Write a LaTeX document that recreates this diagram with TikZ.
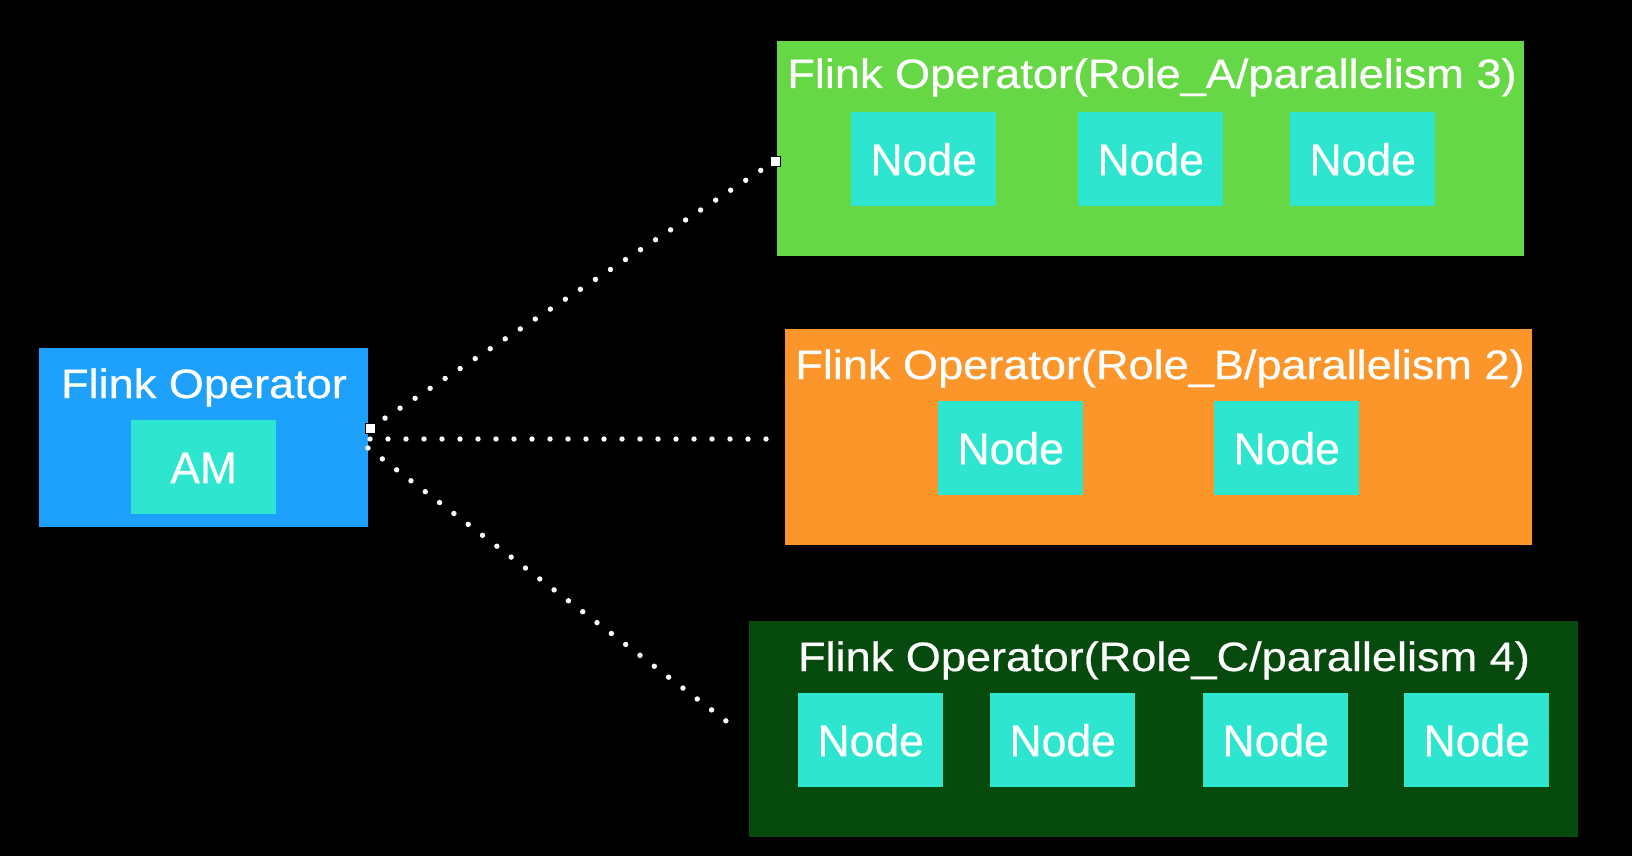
\documentclass[tikz,border=0pt]{standalone}
\usepackage{fontspec}
\setmainfont{Liberation Sans}
\newfontfamily\titlefont[FakeStretch=1.1,FakeBold=0.5]{Liberation Sans}
\newfontfamily\boxfont[FakeBold=0.5]{Liberation Sans}
\definecolor{bgblue}{RGB}{30,161,252}
\definecolor{bggreen}{RGB}{102,216,69}
\definecolor{bgorange}{RGB}{253,150,42}
\definecolor{bgdark}{RGB}{7,74,14}
\definecolor{cyanbox}{RGB}{46,230,207}
\tikzset{
  panel/.style={draw=none, anchor=north west, inner sep=0pt},
  nodebox/.style={fill=cyanbox, minimum width=145pt, minimum height=94pt, inner sep=0pt, anchor=north west, text=white, text height=32pt, text depth=0pt, font=\boxfont\fontsize{44.5}{52}\selectfont},
  title/.style={text=white, font=\titlefont\fontsize{41}{50}\selectfont, inner sep=0pt, anchor=base},
  handle/.style={draw=black, fill=white, line width=1pt, minimum size=10pt, inner sep=0pt},
  dots/.style={white, line width=5.4pt, line cap=round, dash pattern=on 0pt off 18pt},
}
\begin{document}
\begin{tikzpicture}[x=1pt,y=-1pt]
\fill[black] (0,0) rectangle (1632,856);
\useasboundingbox (0,0) rectangle (1632,856);
% panels
\fill[bgblue] (39,348) rectangle (368,527);
\fill[bggreen] (777,41) rectangle (1524,256);
\fill[bgorange] (785,329) rectangle (1532,545);
\fill[bgdark] (749,621) rectangle (1578,837);
\node[panel] (blue) at (39,348) {};
\node[panel] (green) at (777,41) {};
\node[panel] (orange) at (785,329) {};
\node[panel] (dark) at (749,621) {};
% titles
\node[title] (tblue) at (204,398) {Flink Operator};
\node[title] (tgreen) at (1152,88) {Flink Operator(Role\_A/parallelism 3)};
\node[title] (torange) at (1160,379) {Flink Operator(Role\_B/parallelism 2)};
\node[title] (tdark) at (1164,671) {Flink Operator(Role\_C/parallelism 4)};
% inner boxes
\node[nodebox] (am) at (131,420) {AM};
\node[nodebox] (a1) at (851,112) {Node};
\node[nodebox] (a2) at (1078,112) {Node};
\node[nodebox] (a3) at (1290,112) {Node};
\node[nodebox] (b1) at (938,401) {Node};
\node[nodebox] (b2) at (1214,401) {Node};
\node[nodebox] (c1) at (798,693) {Node};
\node[nodebox] (c2) at (990,693) {Node};
\node[nodebox] (c3) at (1203,693) {Node};
\node[nodebox] (c4) at (1404,693) {Node};
% connectors
\coordinate (m0) at (370,439);
\coordinate (m1) at (768,439);
\coordinate (l0) at (368,448);
\coordinate (l1) at (734,727);
\node[handle] (h0) at (370,428) {};
\node[handle] (h1) at (775,161) {};
\draw[dots] (h0.center) -- (h1.center);
\draw[dots] (m0) -- (m1);
\draw[dots] (l0) -- (l1);
\node[handle] at (370,428) {};
\node[handle] at (775,161) {};
\end{tikzpicture}
\end{document}
